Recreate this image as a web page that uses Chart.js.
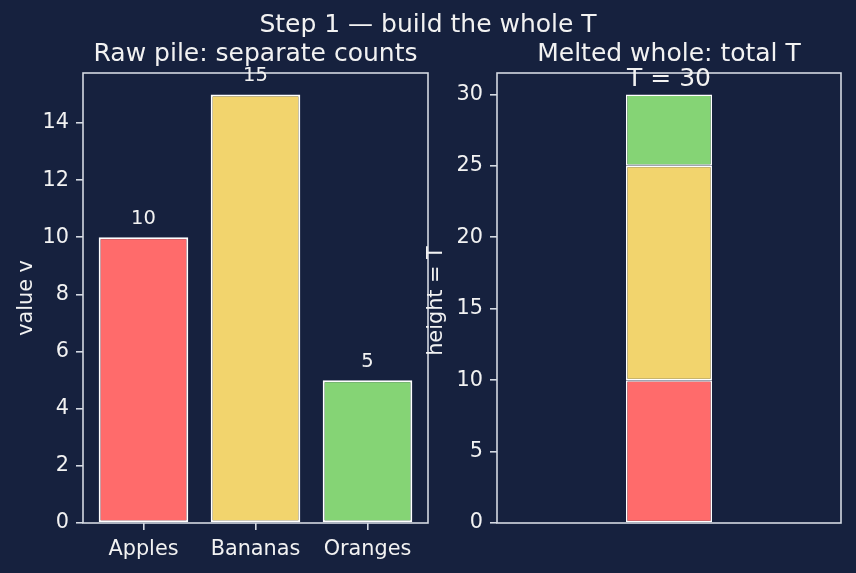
<!DOCTYPE html>
<html>
<head>
<meta charset="utf-8">
<script src="https://cdn.jsdelivr.net/npm/chart.js@4/dist/chart.umd.min.js"></script>
<style>
  html, body { margin: 0; padding: 0; background: #16213e; }
  #wrap { position: relative; width: 856px; height: 573px; background: #16213e; }
  canvas { position: absolute; left: 0; top: 0; }
</style>
</head>
<body>
<div id="wrap">
  <canvas id="c1" width="856" height="573"></canvas>
  <canvas id="c2" width="856" height="573"></canvas>
</div>
<script>
// ---- data ----
const categories = ['Apples', 'Bananas', 'Oranges'];
const counts = [10, 15, 5];
const barColors = ['#ff6b6b', '#f2d46d', '#85d475'];
const leftTicksStep = 2;
const rightTicksStep = 5;
const superTitle = 'Step 1 \u2014 build the whole T';
const leftTitle = 'Raw pile: separate counts';
const rightTitle = 'Melted whole: total T';
const leftYLabel = 'value v';
const rightYLabel = 'height = T';
const total = counts.reduce((a, b) => a + b, 0);

// ---- style ----
const FONT = "'DejaVu Sans', sans-serif";
const TXT = '#f2f2f2';
const SPINE = '#d4d9e2';
const SPINE_W = 1.6;

Chart.defaults.font.family = FONT;
Chart.defaults.color = TXT;

const spinePlugin = {
  id: 'spines',
  afterDraw(chart) {
    const { ctx, chartArea: a } = chart;
    ctx.save();
    ctx.strokeStyle = SPINE;
    ctx.lineWidth = SPINE_W;
    ctx.strokeRect(a.left, a.top, a.right - a.left, a.bottom - a.top);
    ctx.restore();
  }
};

function drawText(ctx, text, x, y, size, align, rot) {
  ctx.save();
  ctx.font = size + 'px ' + FONT;
  ctx.fillStyle = TXT;
  ctx.textAlign = align || 'center';
  ctx.textBaseline = 'alphabetic';
  ctx.translate(x, y);
  if (rot) ctx.rotate(rot);
  ctx.fillText(text, 0, 0);
  ctx.restore();
}

const leftTextPlugin = {
  id: 'leftText',
  afterDraw(chart) {
    const { ctx, chartArea: a } = chart;
    drawText(ctx, superTitle, 428, 32, 25);
    drawText(ctx, leftTitle, (a.left + a.right) / 2, 61, 25);
    drawText(ctx, leftYLabel, 32, (a.top + a.bottom) / 2, 20.8, 'center', -Math.PI / 2);
    const meta = chart.getDatasetMeta(0);
    meta.data.forEach((el, i) => {
      drawText(ctx, String(counts[i]), el.x, el.y - 13.5, 19.5);
    });
  }
};

const rightTextPlugin = {
  id: 'rightText',
  afterDraw(chart) {
    const { ctx, chartArea: a } = chart;
    drawText(ctx, rightTitle, (a.left + a.right) / 2, 61, 25);
    drawText(ctx, rightYLabel, 442, (a.top + a.bottom) / 2 + 3, 20.8, 'center', -Math.PI / 2);
    const el = chart.getDatasetMeta(0).data[0];
    const yTop = chart.scales.y.getPixelForValue(total);
    drawText(ctx, 'T = ' + total, el.x, yTop - 8, 25);
  }
};

// ---- left chart ----
new Chart(document.getElementById('c1'), {
  type: 'bar',
  data: {
    datasets: [{
      data: counts.map((v, i) => ({ x: i, y: v })),
      backgroundColor: barColors,
      borderColor: '#ffffff',
      borderWidth: 2,
      borderSkipped: false,
      barPercentage: 0.8,
      categoryPercentage: 1
    }]
  },
  options: {
    responsive: false,
    animation: false,
    devicePixelRatio: 1,
    layout: { padding: { left: 0, top: 73, right: 428, bottom: 0 } },
    plugins: { legend: { display: false }, tooltip: { enabled: false } },
    scales: {
      x: {
        type: 'linear', offset: false,
        min: -0.54, max: categories.length - 1 + 0.54,
        afterBuildTicks(s) { s.ticks = categories.map((c, i) => ({ value: i })); },
        afterFit(s) { s.height = 50; },
        ticks: {
          autoSkip: false, maxRotation: 0,
          padding: 7, color: TXT, font: { size: 20.8 },
          callback: v => categories[v]
        },
        grid: { display: true, offset: false, drawOnChartArea: false, drawTicks: true, tickLength: 7, color: SPINE, lineWidth: SPINE_W },
        border: { display: false }
      },
      y: {
        min: 0, max: Math.max(...counts) * 1.05,
        afterFit(s) { s.width = 83; },
        ticks: { stepSize: leftTicksStep, includeBounds: false, padding: 7, color: TXT, font: { size: 20.8 } },
        grid: { display: true, drawOnChartArea: false, drawTicks: true, tickLength: 7, color: SPINE, lineWidth: SPINE_W },
        border: { display: false }
      }
    }
  },
  plugins: [spinePlugin, leftTextPlugin]
});

// ---- right chart ----
new Chart(document.getElementById('c2'), {
  type: 'bar',
  data: {
    datasets: counts.map((v, i) => ({
      label: categories[i],
      data: [{ x: 0, y: v }],
      backgroundColor: barColors[i],
      borderColor: '#ffffff',
      borderWidth: 1.5,
      borderSkipped: false,
      barPercentage: 0.5,
      categoryPercentage: 1
    }))
  },
  options: {
    responsive: false,
    animation: false,
    devicePixelRatio: 1,
    layout: { padding: { left: 0, top: 73, right: 15, bottom: 0 } },
    plugins: { legend: { display: false }, tooltip: { enabled: false } },
    scales: {
      x: {
        type: 'linear', stacked: true, offset: false,
        min: -1, max: 1,
        afterBuildTicks(s) { s.ticks = [{ value: -1 }, { value: 0 }, { value: 1 }]; },
        afterFit(s) { s.height = 50; },
        ticks: { display: false },
        grid: { display: false, offset: false },
        border: { display: false }
      },
      y: {
        stacked: true,
        min: 0, max: total * 1.05,
        afterFit(s) { s.width = 497; },
        ticks: { stepSize: rightTicksStep, includeBounds: false, padding: 7, color: TXT, font: { size: 20.8 } },
        grid: { display: true, drawOnChartArea: false, drawTicks: true, tickLength: 7, color: SPINE, lineWidth: SPINE_W },
        border: { display: false }
      }
    }
  },
  plugins: [spinePlugin, rightTextPlugin]
});
</script>
</body>
</html>
